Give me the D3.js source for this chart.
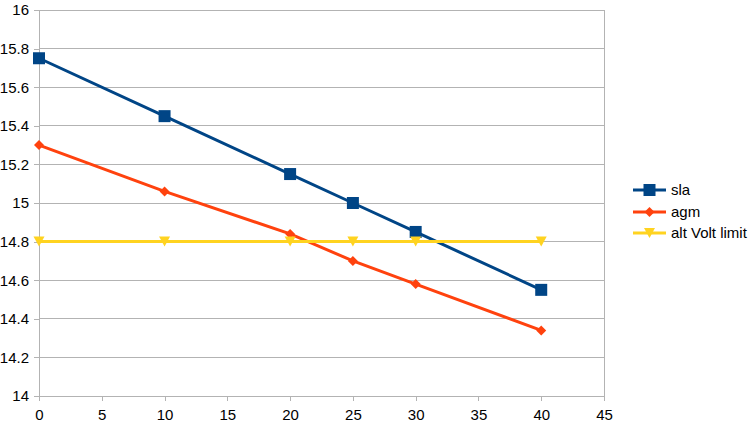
<!DOCTYPE html>
<html><head><meta charset="utf-8">
<script src="https://cdn.jsdelivr.net/npm/d3@7"></script>
<style>body{margin:0;background:#fff}text{font-family:"Liberation Sans",Arial,sans-serif}</style>
</head><body><svg id="c" width="750" height="426"></svg>
<script>
const xValues = [0, 10, 20, 25, 30, 40];
const slaValues = [15.75, 15.45, 15.15, 15.0, 14.85, 14.55];
const agmValues = [15.3, 15.06, 14.84, 14.7, 14.58, 14.34];
const altValues = [14.8, 14.8, 14.8, 14.8, 14.8, 14.8];
const seriesNames = ["sla", "agm", "alt Volt limit"];
const xTicks = [0, 5, 10, 15, 20, 25, 30, 35, 40, 45];
const yTicks = [14, 14.2, 14.4, 14.6, 14.8, 15, 15.2, 15.4, 15.6, 15.8, 16];

const colors = ["#004586", "#ff420e", "#ffd320"];
const svg = d3.select("#c");
const x = d3.scaleLinear().domain([0, 45]).range([39, 604]);
const y = d3.scaleLinear().domain([14, 16]).range([396, 10]);

svg.append("g").selectAll("line").data(yTicks).join("line")
  .attr("x1", 39).attr("x2", 604).attr("y1", d => y(d)).attr("y2", d => y(d))
  .attr("stroke", "#b3b3b3").attr("stroke-width", 1).attr("shape-rendering","crispEdges");
svg.append("line").attr("x1",604).attr("x2",604).attr("y1",10).attr("y2",396)
  .attr("stroke","#b3b3b3").attr("shape-rendering","crispEdges");

const fmt = d => String(+d.toFixed(1));
const yAxis = svg.append("g").attr("transform","translate(39,0)")
  .call(d3.axisLeft(y).tickValues(yTicks).tickFormat(fmt).tickSize(5).tickPadding(5));
const xAxis = svg.append("g").attr("transform","translate(0,396)")
  .call(d3.axisBottom(x).tickValues(xTicks).tickFormat(d3.format("d")).tickSize(5).tickPadding(8));
[yAxis, xAxis].forEach(a => {
  a.selectAll("path,line").attr("stroke","#b3b3b3").attr("shape-rendering","crispEdges");
  a.selectAll("text").attr("font-size","15px").attr("fill","#000").style("font-family","Liberation Sans, Arial, sans-serif");
});

const series = [slaValues, agmValues, altValues];
const line = d3.line().x((d,i) => x(xValues[i])).y(d => y(d));

function marker(g, type, cx, cy, color) {
  if (type === 0) {
    g.append("rect").attr("x", cx-6).attr("y", cy-6).attr("width",12).attr("height",12).attr("fill", color);
  } else if (type === 1) {
    g.append("path").attr("d", `M${cx},${cy-5}L${cx+5},${cy}L${cx},${cy+5}L${cx-5},${cy}Z`).attr("fill", color);
  } else {
    g.append("path").attr("d", `M${cx-5.5},${cy-5}L${cx+5.5},${cy-5}L${cx},${cy+5}Z`).attr("fill", color);
  }
}

series.forEach((s, k) => {
  const g = svg.append("g");
  g.append("path").datum(s).attr("d", line).attr("fill","none")
    .attr("stroke", colors[k]).attr("stroke-width", 3);
  s.forEach((v, i) => marker(g, k, x(xValues[i]), y(v), colors[k]));
});

const legY = [190, 212, 233];
seriesNames.forEach((n, k) => {
  const g = svg.append("g");
  g.append("line").attr("x1", 633).attr("x2", 666).attr("y1", legY[k]).attr("y2", legY[k])
    .attr("stroke", colors[k]).attr("stroke-width", 3);
  marker(g, k, 649.5, legY[k], colors[k]);
  g.append("text").attr("x", 671).attr("y", legY[k] + 5).attr("font-size","15px").text(n);
});
</script></body></html>
